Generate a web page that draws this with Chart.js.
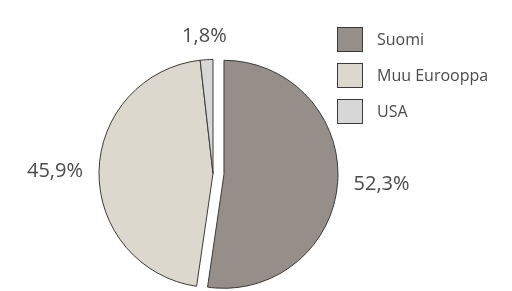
<!DOCTYPE html>
<html>
<head>
<meta charset="utf-8">
<script src="https://cdn.jsdelivr.net/npm/chart.js@4/dist/chart.umd.min.js"></script>
<style>
  html, body { margin: 0; padding: 0; background: #fff; overflow: hidden; }
  #wrap { position: relative; width: 512px; height: 291px; }
</style>
</head>
<body>
<div id="wrap"><canvas id="chart" width="512" height="291"></canvas></div>
<script>
const categories = ['Suomi', 'Muu Eurooppa', 'USA'];
const shares = [52.3, 45.9, 1.8];
const shareLabels = ['52,3%', '45,9%', '1,8%'];
const sliceColors = ['#968e89', '#dcd8cd', '#d7d7d7'];
const explode = [11, 0, 0]; // px the slice is pulled out

const textColor = '#4a4a4a';
const fontFamily = '"Open Sans", "DejaVu Sans", sans-serif';

// chart.js offset also grows the radius of big slices, so shift them by hand
const pullOut = {
  id: 'pullOut',
  afterUpdate(chart) {
    chart.getDatasetMeta(0).data.forEach((arc, i) => {
      if (!explode[i] || arc._pulled) return;
      const orig = arc.draw.bind(arc);
      arc.draw = function (ctx, area) {
        const mid = (this.startAngle + this.endAngle) / 2;
        ctx.save();
        ctx.translate(Math.cos(mid) * explode[i], Math.sin(mid) * explode[i]);
        orig(ctx, area);
        ctx.restore();
      };
      arc._pulled = true;
    });
  }
};

// percentage labels just outside each slice
const sliceLabels = {
  id: 'sliceLabels',
  afterDatasetsDraw(chart) {
    const ctx = chart.ctx;
    const meta = chart.getDatasetMeta(0);
    ctx.save();
    ctx.font = '20px ' + fontFamily;
    ctx.fillStyle = textColor;
    meta.data.forEach((arc, i) => {
      const p = arc.getProps(['x', 'y', 'startAngle', 'endAngle', 'outerRadius']);
      const mid = (p.startAngle + p.endAngle) / 2;
      const dx = Math.cos(mid), dy = Math.sin(mid);
      const cx = p.x + dx * explode[i], cy = p.y + dy * explode[i];
      const d = p.outerRadius + 16;
      const w = ctx.measureText(shareLabels[i]).width;
      const h = 15;
      ctx.textAlign = 'center';
      ctx.textBaseline = 'middle';
      ctx.fillText(shareLabels[i], cx + dx * (d + w / 2), cy + dy * (d + h / 2));
    });
    ctx.restore();
  }
};

// legend drawn at the upper right
const sideLegend = {
  id: 'sideLegend',
  afterDraw(chart) {
    const ctx = chart.ctx;
    ctx.save();
    ctx.font = '16px ' + fontFamily;
    ctx.textBaseline = 'middle';
    ctx.textAlign = 'left';
    categories.forEach((name, i) => {
      const y = 27 + i * 36;
      ctx.fillStyle = sliceColors[i];
      ctx.fillRect(337.5, y + 0.5, 25, 24);
      ctx.strokeStyle = '#3a3a3a';
      ctx.lineWidth = 1;
      ctx.strokeRect(337.5, y + 0.5, 25, 24);
      ctx.fillStyle = textColor;
      ctx.fillText(name, 377, y + 13);
    });
    ctx.restore();
  }
};

new Chart(document.getElementById('chart').getContext('2d'), {
  type: 'pie',
  data: {
    labels: categories,
    datasets: [{
      data: shares,
      backgroundColor: sliceColors,
      borderColor: '#3a3a3a',
      borderWidth: 1,
      hoverOffset: 0
    }]
  },
  options: {
    responsive: false,
    animation: false,
    radius: 114,
    layout: { padding: { left: 0, right: 86, top: 56, bottom: 0 } },
    plugins: {
      legend: { display: false },
      tooltip: { enabled: false }
    }
  },
  plugins: [pullOut, sliceLabels, sideLegend]
});
</script>
</body>
</html>
